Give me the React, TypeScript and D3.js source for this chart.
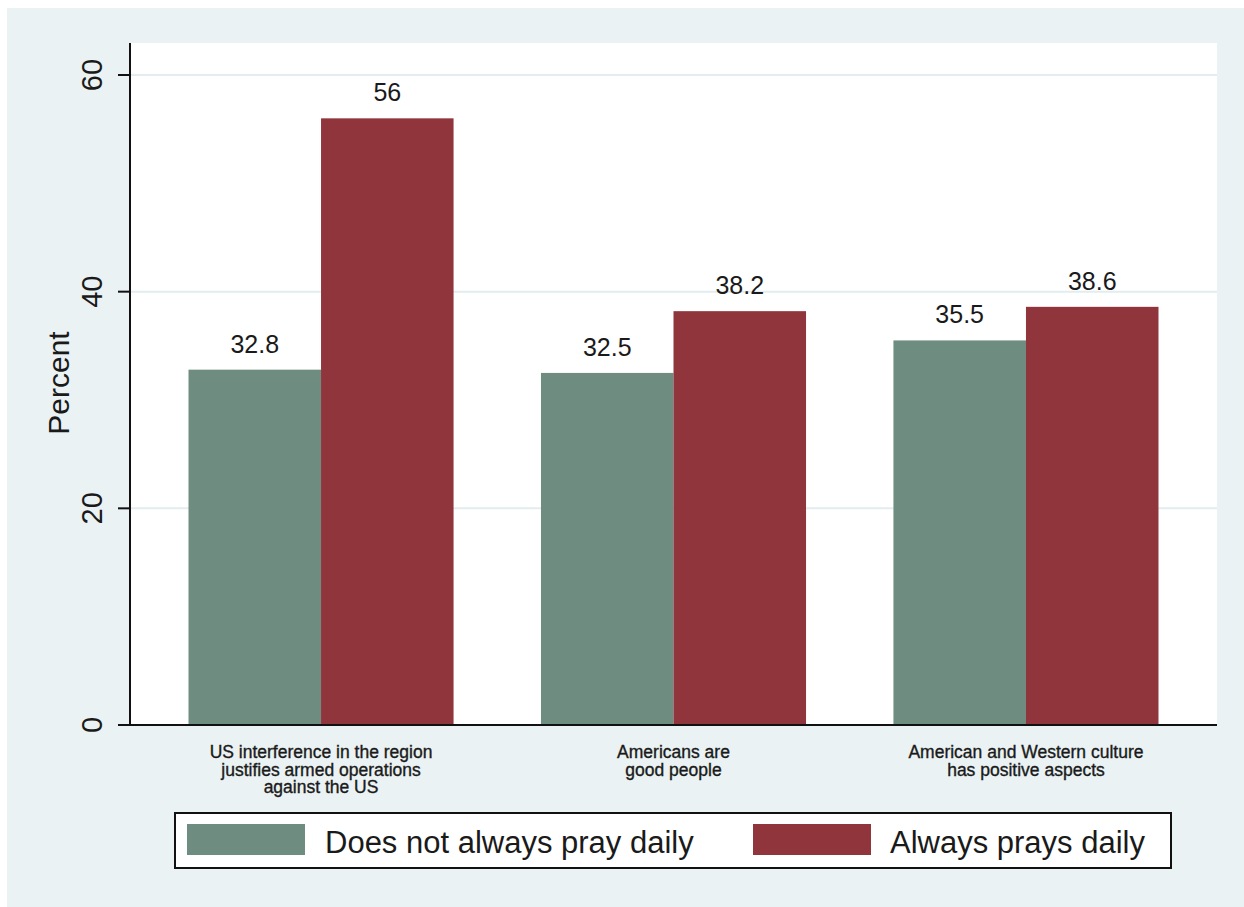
import React from "react";
import * as d3 from "d3";

const categories: string[][] = [
  ["US interference in the region", "justifies armed operations", "against the US"],
  ["Americans are", "good people"],
  ["American and Western culture", "has positive aspects"],
];
const seriesNames = ["Does not always pray daily", "Always prays daily"];
const notAlwaysPrays = [32.8, 32.5, 35.5];
const alwaysPrays = [56, 38.2, 38.6];
const yTicks = [0, 20, 40, 60];
const seriesColors = ["#6e8c80", "#90353b"];

const W = 1244;
const H = 907;
const plot = { left: 130, right: 1217, top: 43, bottom: 725 };
const font = "'Liberation Sans', Arial, Helvetica, sans-serif";

export default function App() {
  const catKeys = categories.map((_, i) => String(i));
  const x0 = d3
    .scaleBand<string>()
    .domain(catKeys)
    .range([plot.left, plot.right])
    .paddingInner(0.248)
    .paddingOuter(0.166);
  const x1 = d3
    .scaleBand<string>()
    .domain(["0", "1"])
    .range([0, x0.bandwidth()]);
  const y = d3.scaleLinear().domain([0, 60]).range([725, 75]);

  const seriesValues = [notAlwaysPrays, alwaysPrays];

  return (
    <svg
      width={W}
      height={H}
      style={{ position: "absolute", left: 0, top: 0, display: "block" }}
      fontFamily={font}
    >
      <rect x={0} y={0} width={W} height={H} fill="#ffffff" />
      <rect x={7} y={8} width={W - 7} height={H - 8} fill="#eaf2f3" />
      <rect
        x={plot.left}
        y={plot.top}
        width={plot.right - plot.left}
        height={plot.bottom - plot.top}
        fill="#ffffff"
      />
      {/* gridlines */}
      {yTicks
        .filter((t) => t > 0)
        .map((t) => (
          <line
            key={"g" + t}
            x1={plot.left}
            x2={plot.right}
            y1={y(t)}
            y2={y(t)}
            stroke="#e3edf0"
            strokeWidth={2}
          />
        ))}
      {/* bars */}
      {catKeys.map((c, ci) =>
        seriesValues.map((vals, si) => {
          const bx = (x0(c) as number) + (x1(String(si)) as number);
          const bw = x1.bandwidth();
          const v = vals[ci];
          return (
            <g key={c + "-" + si}>
              <rect
                x={bx}
                y={y(v)}
                width={bw}
                height={y(0) - y(v)}
                fill={seriesColors[si]}
              />
              <text
                x={bx + bw / 2}
                y={y(v) - 17}
                textAnchor="middle"
                fontSize={25}
                fill="#1a1a1a"
              >
                {String(v)}
              </text>
            </g>
          );
        })
      )}
      {/* y axis */}
      <line x1={plot.left} x2={plot.left} y1={plot.top} y2={plot.bottom + 1} stroke="#111" strokeWidth={2} />
      {yTicks.map((t) => (
        <g key={"t" + t}>
          <line x1={118} x2={plot.left} y1={y(t)} y2={y(t)} stroke="#111" strokeWidth={2} />
          <text
            transform={`translate(102,${y(t)}) rotate(-90)`}
            textAnchor="middle"
            fontSize={29}
            fill="#1a1a1a"
          >
            {t}
          </text>
        </g>
      ))}
      <text
        transform={`translate(69,383) rotate(-90)`}
        textAnchor="middle"
        fontSize={30}
        fill="#1a1a1a"
      >
        Percent
      </text>
      {/* x axis */}
      <line x1={plot.left} x2={plot.right} y1={plot.bottom} y2={plot.bottom} stroke="#111" strokeWidth={2} />
      {catKeys.map((c, ci) => (
        <text
          key={"cl" + c}
          x={(x0(c) as number) + x0.bandwidth() / 2}
          y={758}
          textAnchor="middle"
          fontSize={17.5}
          fill="#1a1a1a"
          stroke="#1a1a1a"
          strokeWidth={0.35}
        >
          {categories[ci].map((line, li) => (
            <tspan
              key={li}
              x={(x0(c) as number) + x0.bandwidth() / 2}
              dy={li === 0 ? 0 : 17.5}
            >
              {line}
            </tspan>
          ))}
        </text>
      ))}
      {/* legend */}
      <rect x={175} y={813} width={996} height={55} fill="#ffffff" stroke="#111" strokeWidth={2} />
      <rect x={187} y={824} width={118} height={31} fill={seriesColors[0]} />
      <text x={325} y={853} fontSize={31} fill="#1a1a1a">
        {seriesNames[0]}
      </text>
      <rect x={753} y={824} width={118} height={31} fill={seriesColors[1]} />
      <text x={890} y={853} fontSize={31} fill="#1a1a1a">
        {seriesNames[1]}
      </text>
    </svg>
  );
}
